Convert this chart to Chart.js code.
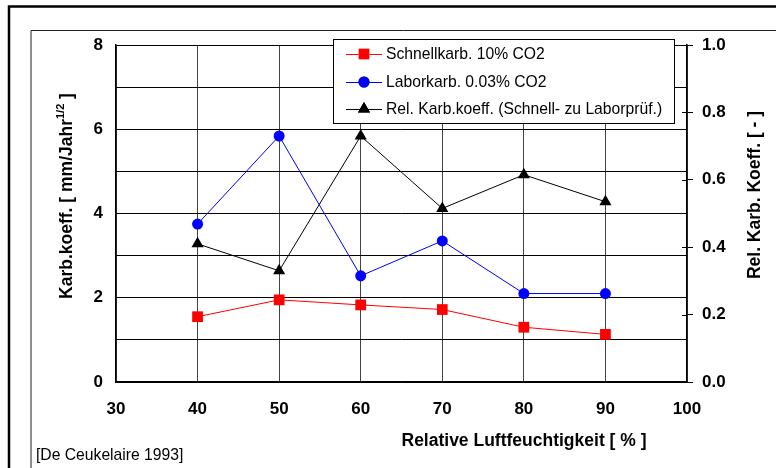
<!DOCTYPE html>
<html>
<head>
<meta charset="utf-8">
<script src="https://cdn.jsdelivr.net/npm/chart.js@4/dist/chart.umd.min.js"></script>
<style>
  html, body { margin: 0; padding: 0; background: #fff; }
  canvas { display: block; }
</style>
</head>
<body>
<canvas id="c" width="776" height="468"></canvas>
<script>
// Relative humidity [%] of the test series
const humidity = [40, 50, 60, 70, 80, 90];
// Carbonation coefficients [mm/Jahr^1/2]
const schnellkarb = [1.55, 1.95, 1.83, 1.72, 1.30, 1.13];
const laborkarb = [3.75, 5.84, 2.52, 3.35, 2.10, 2.10];
// Relative carbonation coefficient [-]
const relKoeff = [0.41, 0.33, 0.73, 0.515, 0.615, 0.535];

const seriesLabels = [
  'Schnellkarb. 10% CO2',
  'Laborkarb. 0.03% CO2',
  'Rel. Karb.koeff. (Schnell- zu Laborprüf.)'
];
const xTitle = 'Relative Luftfeuchtigkeit [ % ]';
const yTitle = 'Karb.koeff. [ mm/Jahr';
const yTitleSup = '1/2';
const yTitleEnd = ' ]';
const y2Title = 'Rel. Karb. Koeff. [ - ]';
const sourceNote = '[De Ceukelaire 1993]';

const FONT = "'Liberation Sans', Arial, Helvetica, sans-serif";

const pts = (ys) => humidity.map((x, i) => ({ x: x, y: ys[i] }));

// Frames, legend box, axis titles and inner right-axis ticks
const decor = {
  id: 'decor',
  beforeDraw(chart) {
    const ctx = chart.ctx;
    ctx.save();
    ctx.fillStyle = '#fff';
    ctx.fillRect(0, 0, chart.width, chart.height);
    // outer heavy frame
    ctx.strokeStyle = '#000';
    ctx.lineWidth = 2.5;
    ctx.beginPath();
    ctx.moveTo(9, chart.height);
    ctx.lineTo(9, 6.5);
    ctx.lineTo(chart.width, 6.5);
    ctx.stroke();
    // inner thin frame
    ctx.lineWidth = 1;
    ctx.strokeStyle = '#222';
    ctx.beginPath();
    ctx.moveTo(31, chart.height);
    ctx.lineTo(31, 30.5);
    ctx.lineTo(chart.width, 30.5);
    ctx.stroke();
    ctx.restore();
  },
  afterDraw(chart) {
    const ctx = chart.ctx;
    const area = chart.chartArea;
    const y2 = chart.scales.y2;
    ctx.save();
    // inner part of the right-axis tick marks
    ctx.strokeStyle = '#000';
    ctx.lineWidth = 1;
    y2.ticks.forEach(t => {
      const py = Math.round(y2.getPixelForValue(t.value)) + 0.5;
      ctx.beginPath();
      ctx.moveTo(area.right - 5, py);
      ctx.lineTo(area.right, py);
      ctx.stroke();
    });

    // legend
    const lx = 333.5, ly = 39.5, lw = 341, lh = 84;
    ctx.fillStyle = '#fff';
    ctx.fillRect(lx, ly, lw, lh);
    ctx.strokeStyle = '#000';
    ctx.lineWidth = 1;
    ctx.strokeRect(lx, ly, lw, lh);
    const rows = [54, 82, 109];
    chart.data.datasets.forEach((ds, i) => {
      const cy = rows[i];
      ctx.strokeStyle = ds.borderColor;
      ctx.lineWidth = 1;
      ctx.beginPath();
      ctx.moveTo(346, cy + 0.5);
      ctx.lineTo(382, cy + 0.5);
      ctx.stroke();
      Chart.helpers.drawPoint(ctx, {
        pointStyle: ds.pointStyle, radius: ds.pointRadius, rotation: 0, borderWidth: 0
      }, 364, cy);
      ctx.fillStyle = ds.backgroundColor;
      ctx.fill();
      ctx.fillStyle = '#000';
      ctx.font = '15.7px ' + FONT;
      ctx.textAlign = 'left';
      ctx.textBaseline = 'middle';
      ctx.fillText(ds.label, 386, cy + 0.5);
    });

    // axis titles
    ctx.fillStyle = '#000';
    ctx.font = 'bold 17.5px ' + FONT;
    ctx.textAlign = 'center';
    ctx.textBaseline = 'middle';
    ctx.fillText(xTitle, 524, 441);

    // right title
    ctx.save();
    ctx.translate(755, 195);
    ctx.rotate(-Math.PI / 2);
    ctx.fillText(y2Title, 0, 0);
    ctx.restore();

    // left title with superscript
    ctx.save();
    ctx.translate(66, 196);
    ctx.rotate(-Math.PI / 2);
    const bigFont = 'bold 17.5px ' + FONT;
    const supFont = 'bold 11px ' + FONT;
    ctx.font = bigFont;
    const w1 = ctx.measureText(yTitle).width;
    const w3 = ctx.measureText(yTitleEnd).width;
    ctx.font = supFont;
    const w2 = ctx.measureText(yTitleSup).width;
    const total = w1 + w2 + w3;
    let x0 = -total / 2;
    ctx.textAlign = 'left';
    ctx.textBaseline = 'alphabetic';
    ctx.font = bigFont;
    ctx.fillText(yTitle, x0, 6);
    ctx.font = supFont;
    ctx.fillText(yTitleSup, x0 + w1, -2);
    ctx.font = bigFont;
    ctx.fillText(yTitleEnd, x0 + w1 + w2, 6);
    ctx.restore();

    // source note
    ctx.font = '15.7px ' + FONT;
    ctx.textAlign = 'left';
    ctx.textBaseline = 'middle';
    ctx.fillText(sourceNote, 36, 456);
    ctx.restore();
  }
};

const tickFont = { family: FONT, size: 17, weight: 'bold' };

new Chart(document.getElementById('c'), {
  type: 'line',
  data: {
    datasets: [
      {
        label: seriesLabels[0], data: pts(schnellkarb), yAxisID: 'y',
        borderColor: '#ff0000', backgroundColor: '#ff0000', borderWidth: 1,
        pointStyle: 'rect', pointRadius: 7.6, pointBorderWidth: 0
      },
      {
        label: seriesLabels[1], data: pts(laborkarb), yAxisID: 'y',
        borderColor: '#0000ff', backgroundColor: '#0000ff', borderWidth: 1,
        pointStyle: 'circle', pointRadius: 5.5, pointBorderWidth: 0
      },
      {
        label: seriesLabels[2], data: pts(relKoeff), yAxisID: 'y2',
        borderColor: '#000000', backgroundColor: '#000000', borderWidth: 1,
        pointStyle: 'triangle', pointRadius: 7, pointBorderWidth: 0
      }
    ]
  },
  options: {
    responsive: false,
    animation: false,
    devicePixelRatio: 1,
    layout: { padding: { top: 45, left: 0, right: 0, bottom: 0 } },
    plugins: { legend: { display: false }, tooltip: { enabled: false } },
    scales: {
      x: {
        type: 'linear', min: 30, max: 100,
        ticks: { stepSize: 10, color: '#000', font: tickFont, padding: 17, maxRotation: 0 },
        grid: { color: '#444', lineWidth: 1, drawTicks: false },
        border: { color: '#000', width: 1.5 },
        afterFit(s) { s.height = 86; }
      },
      y: {
        position: 'left', min: 0, max: 8,
        ticks: {
          stepSize: 1, color: '#000', font: tickFont, padding: 13,
          callback: (v) => (v % 2 === 0 ? String(v) : '')
        },
        grid: { color: '#000', lineWidth: 1, drawTicks: false },
        border: { color: '#000', width: 1.5 },
        afterFit(s) { s.width = 116; }
      },
      y2: {
        position: 'right', min: 0, max: 1,
        ticks: {
          stepSize: 0.2, color: '#000', font: tickFont, padding: 9,
          callback: (v) => Number(v).toFixed(1)
        },
        grid: { drawOnChartArea: false, color: '#000', tickLength: 6, lineWidth: 1 },
        border: { color: '#000', width: 1.5 },
        afterFit(s) { s.width = 89; }
      }
    }
  },
  plugins: [decor]
});
</script>
</body>
</html>
